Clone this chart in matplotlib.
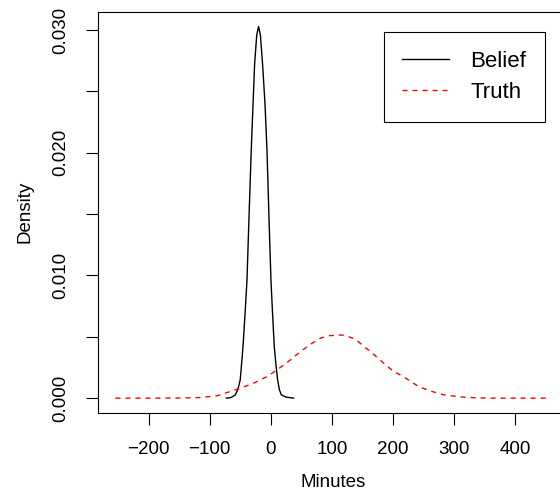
import matplotlib
matplotlib.use("Agg")
import matplotlib.pyplot as plt

plt.rcParams['font.family'] = ['Liberation Sans', 'DejaVu Sans']

# Belief density
belief_x = [-72.8, -65, -58, -54, -50, -47.8, -45.5, -42, -39, -35.5, -32, -26.5, -23, -20,
            -17, -13.4, -9.5, -6.2, -3, 0.3, 3, 5.7, 8.5, 11.2, 14, 17.2, 25, 37.3]
belief_y = [0.0, 0.00005, 0.00027, 0.0007, 0.0015, 0.0028, 0.0042, 0.0070, 0.0096, 0.0150, 0.0202,
            0.0272, 0.0296, 0.0303, 0.0296, 0.0272, 0.0240, 0.0202, 0.0148, 0.0096, 0.0068,
            0.0042, 0.0027, 0.0015, 0.0007, 0.00027, 0.00008, 0.0]

# Truth density
truth_x = [-254.5, -200, -150, -115.4, -88, -71.7, -52.7, -28.1, -6.2, 10.1, 31.9, 48.3, 67.4,
           81, 94.6, 116.5, 127.3, 138.3, 146.5, 156.3, 165.6, 173.8, 183.6, 192.8, 201, 212,
           222.9, 241.9, 261, 282.8, 310, 337.5, 370, 457.4]
truth_y = [0.0, 0.0, 0.00001, 0.00005, 0.00019, 0.00046, 0.00076, 0.00122, 0.00176, 0.0023,
           0.00311, 0.00379, 0.00447, 0.00488, 0.00509, 0.00515, 0.00501, 0.0048, 0.00447,
           0.00406, 0.00371, 0.00333, 0.0029, 0.00252, 0.00217, 0.00189, 0.00157, 0.00094,
           0.00059, 0.00027, 0.0001, 0.00002, 0.0, 0.0]

xticks = [-200, -100, 0, 100, 200, 300, 400]
yticks = [0.0, 0.005, 0.010, 0.015, 0.020, 0.025, 0.030]
ylabels = ["0.000", "", "0.010", "", "0.020", "", "0.030"]

fig = plt.figure(figsize=(5.6, 4.91), dpi=100)
ax = fig.add_axes([0.175, 0.1589, 0.8384, 0.8173])

ax.plot(belief_x, belief_y, color="black", lw=1.0, label="Belief")
ax.plot(truth_x, truth_y, color="red", lw=1.0, dashes=(3.6, 3.6), label="Truth")

ax.set_xlim(-283, 486)
ax.set_ylim(-0.00121, 0.0315)
ax.set_xticks(xticks)
ax.set_yticks(yticks)
ax.set_yticklabels(ylabels, rotation=90, va="center")
ax.tick_params(length=8.4, width=0.8, pad=12, labelsize=13.5)

for s in ax.spines.values():
    s.set_linewidth(0.8)

ax.set_xlabel("Minutes", fontsize=13.5, labelpad=11)
ax.set_ylabel("Density", fontsize=13.5, labelpad=14)

leg = ax.legend(loc="upper right", bbox_to_anchor=(0.952, 0.950), fontsize=16,
                frameon=True, fancybox=False, edgecolor="black", framealpha=1,
                borderaxespad=0, borderpad=0.85, handlelength=2.1, handletextpad=0.95,
                labelspacing=0.45)
leg.get_frame().set_linewidth(0.8)

fig.savefig("out.png", dpi=100)
